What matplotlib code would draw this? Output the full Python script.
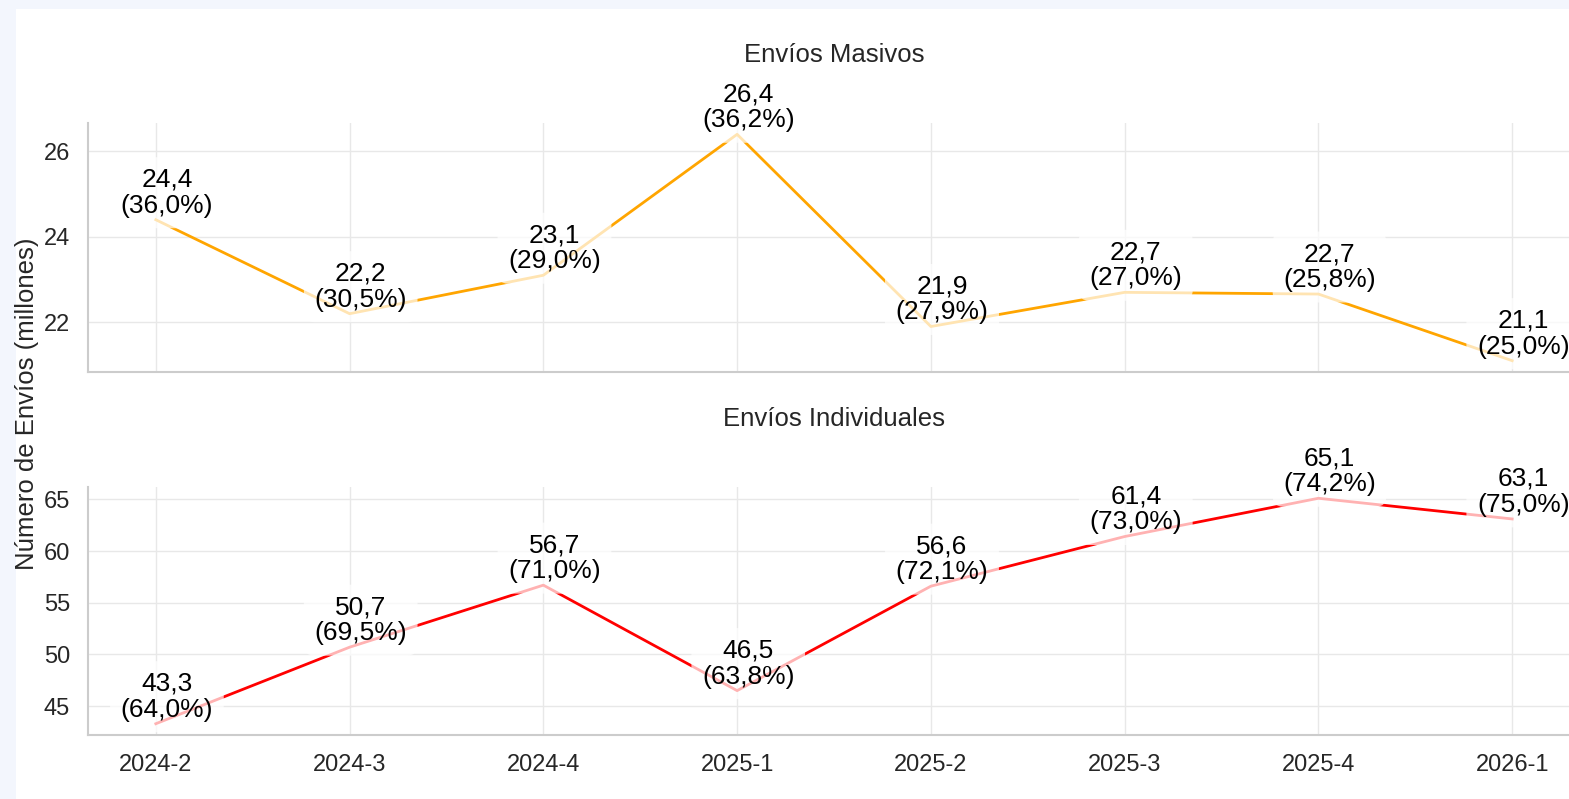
import matplotlib
matplotlib.use("Agg")
import matplotlib.pyplot as plt
from matplotlib.patches import Rectangle

plt.rcParams['font.family'] = ['Liberation Sans', 'DejaVu Sans']

# datos por trimestre
trimestres = ['2024-2', '2024-3', '2024-4', '2025-1', '2025-2', '2025-3', '2025-4', '2026-1']
masivos = [24.4, 22.2, 23.1, 26.4, 21.9, 22.7, 22.66, 21.1]
masivos_pct = [36.0, 30.5, 29.0, 36.2, 27.9, 27.0, 25.8, 25.0]
individuales = [43.3, 50.7, 56.7, 46.5, 56.6, 61.4, 65.1, 63.1]
individuales_pct = [64.0, 69.5, 71.0, 63.8, 72.1, 73.0, 74.2, 75.0]


def fmt(v):
    return f"{v:.1f}".replace('.', ',')


def draw_panel(ax, values, pcts, color, title, yticks):
    x = list(range(len(trimestres)))
    ax.plot(x, values, color=color, lw=2, zorder=2)
    for xi, v, p in zip(x, values, pcts):
        ax.annotate(f"{fmt(v)}\n({fmt(p)}%)", (xi, v), textcoords='offset points',
                    xytext=(8, 1.5), ha='center', va='bottom', fontsize=19,
                    linespacing=1.1, color='black', zorder=3,
                    bbox=dict(boxstyle='round,pad=0.4', fc='white', ec='none', alpha=0.7))
    ax.set_title(title, fontsize=18.5, color='#262626', pad=44)
    ax.set_xticks(x)
    ax.set_yticks(yticks)
    ax.set_facecolor('none')
    ax.grid(True, color='#e8e8e8', lw=1)
    ax.set_axisbelow(True)
    for s in ['top', 'right']:
        ax.spines[s].set_visible(False)
    for s in ['left', 'bottom']:
        ax.spines[s].set_color('#cccccc')
        ax.spines[s].set_linewidth(1.5)
    ax.tick_params(length=0, labelsize=17, colors='#262626')
    ax.tick_params(axis='y', pad=13)
    ax.tick_params(axis='x', pad=14)


fig = plt.figure(figsize=(15.69, 7.99), dpi=100, facecolor='#f3f6fd')
fig.patches.append(Rectangle((16 / 1569, 0), 1, 1 - 9 / 799, transform=fig.transFigure,
                             facecolor='white', edgecolor='none', zorder=-5))

W, H = 1569, 799
ax1 = fig.add_axes([88 / W, 1 - 372 / H, (1580 - 88) / W, 249 / H])
ax2 = fig.add_axes([88 / W, 1 - 735 / H, (1580 - 88) / W, 248 / H], sharex=ax1)

draw_panel(ax1, masivos, masivos_pct, '#ffa500', 'Envíos Masivos', [22, 24, 26])
draw_panel(ax2, individuales, individuales_pct, '#ff0000', 'Envíos Individuales', [45, 50, 55, 60, 65])

ax2.set_xticklabels(trimestres)
plt.setp(ax1.get_xticklabels(), visible=False)

fig.text(27 / W, 1 - 404 / H, 'Número de Envíos (millones)', rotation=90,
         ha='center', va='center', fontsize=18.5, color='#262626')

fig.savefig('out.png', dpi=100, facecolor=fig.get_facecolor())
